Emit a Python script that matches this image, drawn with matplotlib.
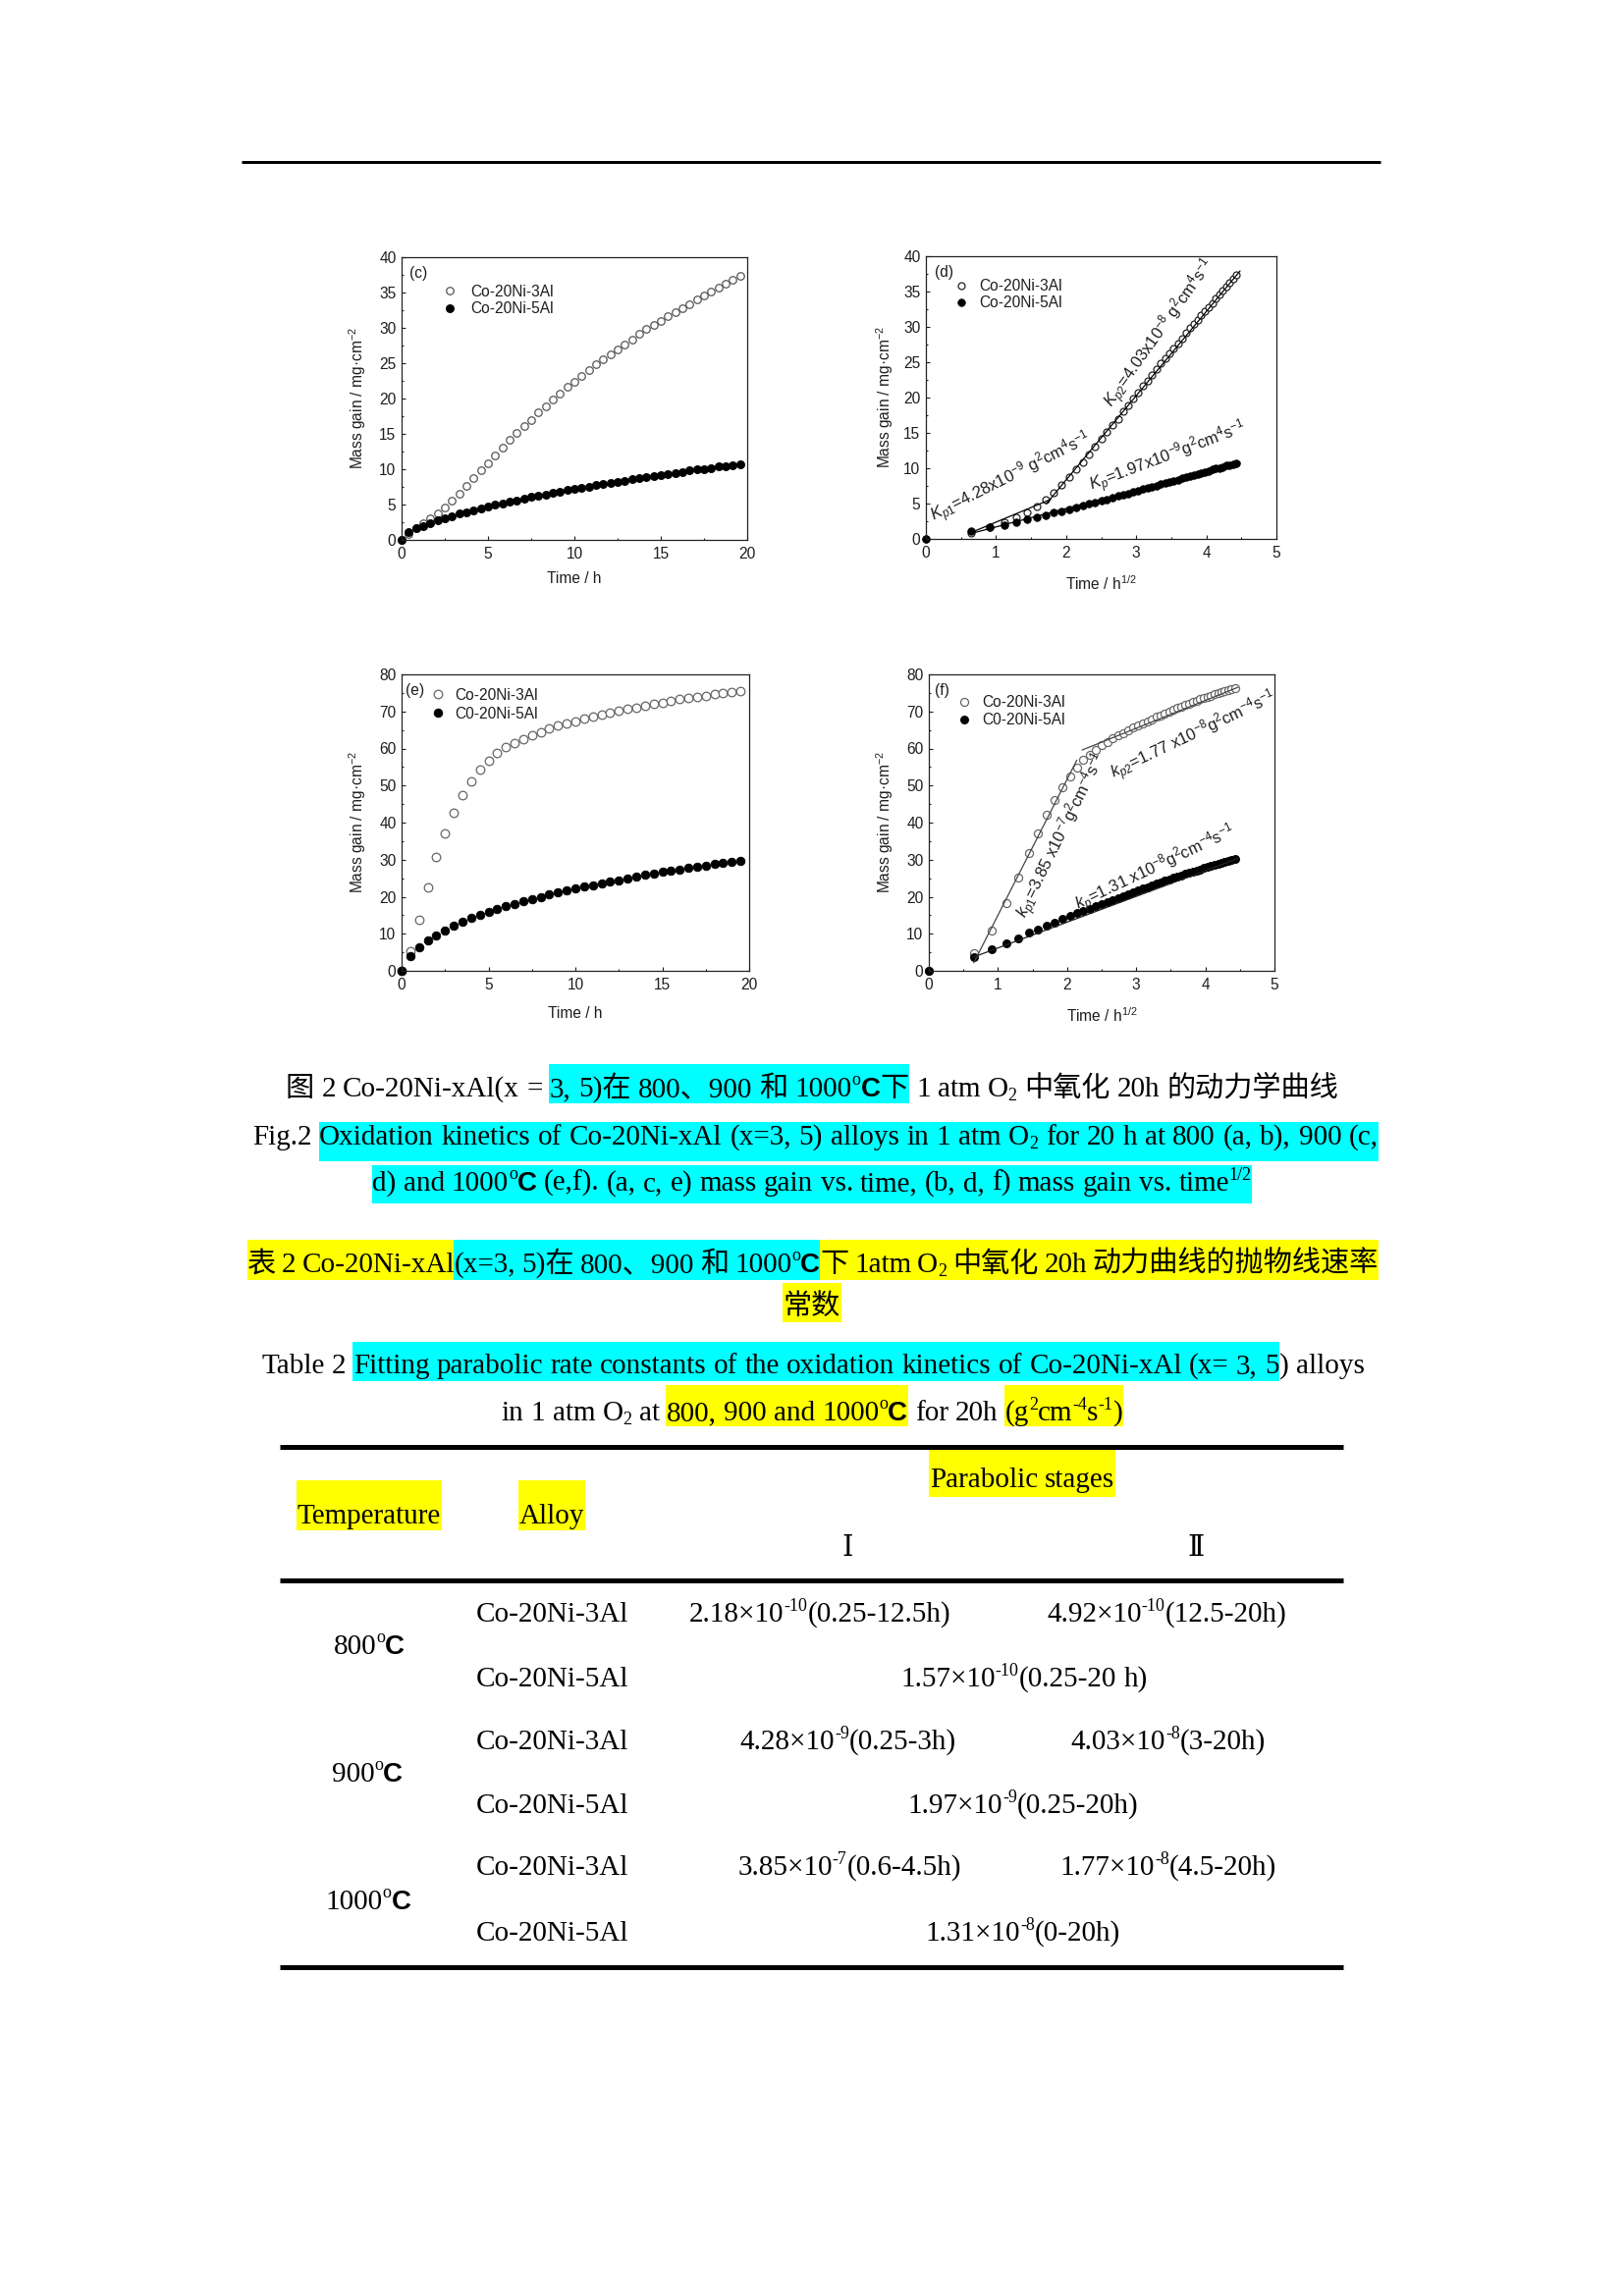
import re
import numpy as np
import matplotlib
matplotlib.use("Agg")
import matplotlib.pyplot as plt
from matplotlib.transforms import IdentityTransform
from matplotlib.patches import Rectangle
from matplotlib.lines import Line2D
from matplotlib.ticker import MultipleLocator

plt.rcParams['mathtext.fontset'] = 'custom'
plt.rcParams['mathtext.rm'] = 'Liberation Sans'
plt.rcParams['mathtext.it'] = 'Liberation Sans:italic'
plt.rcParams['mathtext.bf'] = 'Liberation Sans:bold'
plt.rcParams['font.family'] = ['Liberation Sans', 'DejaVu Sans']

# ---------------- data ----------------
# 900 C, 25-min sampling (h)
t_900 = [0, 0.42, 0.83, 1.25, 1.67, 2.08, 2.5, 2.92, 3.33, 3.75, 4.17, 4.58,
         5.0, 5.42, 5.83, 6.25, 6.67, 7.08, 7.5, 7.92, 8.33, 8.75, 9.17, 9.58,
         10.0, 10.42, 10.83, 11.25, 11.67, 12.08, 12.5, 12.92, 13.33, 13.75, 14.17, 14.58,
         15.0, 15.42, 15.83, 16.25, 16.67, 17.08, 17.5, 17.92, 18.33, 18.75, 19.17, 19.58]
m900_3Al = [0, 0.9, 1.7, 2.4, 3.1, 3.8, 4.6, 5.6, 6.5, 7.6, 8.7, 9.8,
            10.9, 12.0, 13.1, 14.1, 15.1, 16.1, 17.0, 18.0, 18.9, 19.8, 20.7, 21.6,
            22.4, 23.2, 24.0, 24.8, 25.6, 26.3, 27.0, 27.7, 28.4, 29.1, 29.8, 30.4,
            31.0, 31.6, 32.2, 32.8, 33.4, 34.0, 34.6, 35.1, 35.7, 36.2, 36.8, 37.3]
m900_5Al = [0, 1.07, 1.6, 2.0, 2.4, 2.8, 3.07, 3.4, 3.7, 3.95, 4.2, 4.45,
            4.7, 4.95, 5.2, 5.4, 5.6, 5.85, 6.05, 6.25, 6.45, 6.65, 6.85, 7.05,
            7.2, 7.4, 7.55, 7.75, 7.9, 8.1, 8.25, 8.4, 8.55, 8.75, 8.9, 9.05,
            9.2, 9.35, 9.5, 9.65, 9.8, 9.95, 10.05, 10.2, 10.35, 10.45, 10.6, 10.7]

# 1000 C, panel (e): 0.5 h sampling
t_1000e = [0, 0.5, 1.0, 1.5, 2.0, 2.5, 3.0, 3.5, 4.0, 4.5, 5.0, 5.5, 6.0, 6.5,
           7.0, 7.5, 8.0, 8.5, 9.0, 9.5, 10.0, 10.5, 11.0, 11.5, 12.0, 12.5, 13.0,
           13.5, 14.0, 14.5, 15.0, 15.5, 16.0, 16.5, 17.0, 17.5, 18.0, 18.5, 19.0, 19.5]
m1000e_3Al = [0, 5.4, 13.7, 22.6, 30.6, 37.2, 42.7, 47.5, 51.2, 54.4, 56.8, 58.7,
              60.3, 61.5, 62.6, 63.6, 64.5, 65.3, 66.1, 66.8, 67.4, 68.0, 68.6, 69.1,
              69.6, 70.1, 70.6, 71.1, 71.5, 72.0, 72.4, 72.8, 73.3, 73.6, 74.0, 74.3,
              74.6, 75.0, 75.2, 75.5]
m1000e_5Al = [0, 4.1, 6.4, 8.1, 9.6, 10.9, 12.2, 13.2, 14.2, 15.0, 15.9, 16.7,
              17.4, 18.1, 18.7, 19.3, 20.0, 20.6, 21.1, 21.6, 22.2, 22.7, 23.1, 23.7,
              24.1, 24.5, 25.0, 25.4, 25.9, 26.3, 26.7, 27.0, 27.4, 27.7, 28.1, 28.4,
              28.8, 29.1, 29.4, 29.8]

# 1000 C, panel (f): 25-min sampling (same times as t_900)
m1000f_3Al = [0, 4.7, 10.9, 18.4, 25.2, 31.8, 37.2, 42.0, 46.0, 49.5, 52.5, 54.9,
              56.9, 58.4, 59.7, 60.8, 61.8, 62.7, 63.5, 64.2, 64.9, 65.6, 66.2, 66.8,
              67.4, 67.9, 68.5, 69.0, 69.5, 70.0, 70.4, 70.9, 71.3, 71.7, 72.1, 72.5,
              72.9, 73.3, 73.6, 74.0, 74.3, 74.6, 74.9, 75.2, 75.5, 75.7, 76.0, 76.2]
m1000f_5Al = [0, 3.6, 5.7, 7.4, 8.8, 10.2, 11.2, 12.2, 13.1, 14.0, 14.8, 15.5,
              16.2, 16.8, 17.4, 18.0, 18.6, 19.1, 19.7, 20.2, 20.7, 21.2, 21.7, 22.2,
              22.6, 23.0, 23.5, 23.9, 24.3, 24.7, 25.1, 25.4, 25.8, 26.1, 26.5, 26.8,
              27.1, 27.4, 27.7, 28.0, 28.3, 28.6, 28.9, 29.2, 29.4, 29.7, 29.9, 30.1]

# parabolic fit lines (end points, x in h^1/2)
fit_d_I_x, fit_d_I_y = [0.62, 1.78], [0.8, 5.6]
fit_d_II_x, fit_d_II_y = [1.72, 4.48], [5.0, 37.9]
fit_d_5_x, fit_d_5_y = [0.62, 4.48], [0.7, 10.8]
fit_f_I_x, fit_f_I_y = [0.65, 2.14], [2.2, 56.8]
fit_f_II_x, fit_f_II_y = [2.22, 4.47], [59.6, 76.5]
fit_f_5_x, fit_f_5_y = [0.63, 4.47], [3.6, 30.3]

labels_top = ['Co-20Ni-3Al', 'Co-20Ni-5Al']
labels_bot = ['Co-20Ni-3Al', 'C0-20Ni-5Al']

# ---------------- page ----------------
W, H, DPI = 1654, 2339, 200
fig = plt.figure(figsize=(W / DPI, H / DPI), dpi=DPI)
fig.patch.set_facecolor('white')
R = fig.canvas.get_renderer()
ID = IdentityTransform()
PX = DPI / 72.0
CYAN, YEL = '#00FFFF', '#FFFF00'
SERIF = ['Liberation Serif', 'Noto Sans CJK SC']
TXT = '#1e1e1e'


def kw_for(kind, size):
    if kind in ('sup', 'sub', 'deg'):
        return dict(fontsize=size * 0.62, family=SERIF)
    if kind == 'C':
        return dict(fontsize=size * 0.95, family=['Liberation Sans'], weight='bold')
    if kind == 'rom':
        return dict(fontsize=size, family=['DejaVu Serif', 'Noto Sans CJK SC'])
    return dict(fontsize=size, family=SERIF, weight='light')


def rise_for(kind, size):
    return {'sup': 0.38, 'sub': -0.15, 'deg': 0.42}.get(kind, 0.0) * size * PX


def meas(s, kw):
    t1 = fig.text(0, 0, '|' + s + '|', transform=ID, **kw)
    w1 = t1.get_window_extent(R).width
    t1.remove()
    t0 = fig.text(0, 0, '||', transform=ID, **kw)
    w0 = t0.get_window_extent(R).width
    t0.remove()
    return w1 - w0


def line(runs, base, x0=None, xc=None, width=None, hl=None, size=10.5):
    items = []
    for txt, kind, col in runs:
        kw = kw_for(kind, size)
        for p in re.split('( +)', txt):
            if p == '':
                continue
            sp = p.strip() == ''
            items.append((p, kind, col, kw, meas(p, kw), sp))
    natural = sum(it[4] for it in items)
    nsp = sum(len(it[0]) for it in items if it[5])
    extra = (width - natural) / nsp if (width and nsp) else 0.0
    total = natural + extra * nsp
    x = x0 if x0 is not None else xc - total / 2.0
    for p, kind, col, kw, w, sp in items:
        adv = w + (extra * len(p) if sp else 0.0)
        if not sp:
            fig.text(x, H - base + rise_for(kind, size), p, transform=ID,
                     ha='left', va='baseline', color='black', zorder=3, **kw)
        if col is not None and hl is not None:
            fig.add_artist(Rectangle((x - 0.5, H - hl[1]), adv + 1.0, hl[1] - hl[0],
                                     transform=ID, facecolor=col, edgecolor='none',
                                     linewidth=0, antialiased=False, zorder=1))
        x += adv


def hrule(y, x1, x2, lw_px):
    fig.add_artist(Line2D([x1, x2], [H - y, H - y], transform=ID, color='black',
                          linewidth=lw_px / PX, solid_capstyle='butt', zorder=2))


def deg(col):
    return [('o', 'deg', col), ('C', 'C', col)]


hrule(165, 246, 1406, 3)

# ---------------- plots ----------------
def add_ax(l, t, r, b):
    return fig.add_axes([l / W, 1 - b / H, (r - l) / W, (b - t) / H])


FS = 5.6


def style_ax(ax, xlim, xmaj, ylim, ymaj):
    ax.set_xlim(*xlim)
    ax.set_ylim(*ylim)
    ax.xaxis.set_major_locator(MultipleLocator(xmaj))
    ax.xaxis.set_minor_locator(MultipleLocator(xmaj / 2))
    ax.yaxis.set_major_locator(MultipleLocator(ymaj))
    ax.yaxis.set_minor_locator(MultipleLocator(ymaj / 2))
    ax.tick_params(which='both', direction='in', top=False, right=False,
                   colors=TXT, labelsize=FS, width=0.4)
    ax.tick_params(which='major', length=1.4)
    ax.tick_params(which='minor', length=0.8)
    ax.tick_params(axis='x', pad=2.6)
    ax.tick_params(axis='y', pad=2.0)
    for s in ax.spines.values():
        s.set_linewidth(0.45)
        s.set_color('#222222')
    ax.set_ylabel('Mass gain / mg·cm$^{-2}$', fontsize=FS, color=TXT)


def panel_legend(ax, handles, labels, ax_x, ax_y, pad, spacing):
    ax.legend(handles, labels, loc='upper left', bbox_to_anchor=(ax_x, ax_y),
              frameon=False, fontsize=FS, handlelength=1.0, handletextpad=pad,
              labelspacing=spacing, borderpad=0, borderaxespad=0, numpoints=1,
              labelcolor=TXT)


# (c)
ax = add_ax(409, 262, 761, 550)
style_ax(ax, (0, 20), 5, (0, 40), 5)
h3, = ax.plot(t_900, m900_3Al, 'o', ms=2.7, mfc='white', mec='#555555', mew=0.45, clip_on=False)
h5, = ax.plot(t_900, m900_5Al, 'o', ms=2.9, mfc='black', mec='black', mew=0.3, clip_on=False)
ax.set_xlabel('Time / h', fontsize=FS, color=TXT)
ax.xaxis.set_label_coords(0.5, -0.112)
ax.yaxis.set_label_coords(-0.097, 0.5)
ax.text(0.023, 0.944, '(c)', transform=ax.transAxes, fontsize=FS, va='center', color=TXT)
panel_legend(ax, [h3, h5], labels_top, 0.116, 0.903, 0.9, 0.15)

# (d)
ax = add_ax(943, 261, 1300, 549)
style_ax(ax, (0, 5), 1, (0, 40), 5)
xd = np.sqrt(t_900)
h3, = ax.plot(xd, m900_3Al, 'o', ms=2.5, mfc='white', mec='#222222', mew=0.45, clip_on=False)
h5, = ax.plot(xd, m900_5Al, 'o', ms=2.7, mfc='black', mec='black', mew=0.3, clip_on=False)
ax.plot(fit_d_I_x, fit_d_I_y, '-', color='black', lw=0.45)
ax.plot(fit_d_II_x, fit_d_II_y, '-', color='black', lw=0.45)
ax.plot(fit_d_5_x, fit_d_5_y, '-', color='black', lw=0.45)
ax.set_xlabel('Time / h$^{1/2}$', fontsize=FS, color=TXT)
ax.xaxis.set_label_coords(0.5, -0.125)
ax.yaxis.set_label_coords(-0.087, 0.5)
ax.text(0.025, 0.941, '(d)', transform=ax.transAxes, fontsize=FS, va='center', color=TXT)
panel_legend(ax, [h3, h5], labels_top, 0.079, 0.92, 0.65, 0.15)
AFS = 6.0
ax.text(1.21, 8.7, '$K_{p1}$=4.28x10$^{-9}$ g$^{2}$cm$^{4}$s$^{-1}$', fontsize=AFS, rotation=26.6,
        rotation_mode='anchor', ha='center', va='center', color=TXT)
ax.text(3.34, 29.0, '$K_{p2}$=4.03x10$^{-8}$ g$^{2}$cm$^{4}$s$^{-1}$', fontsize=AFS, rotation=54.5,
        rotation_mode='anchor', ha='center', va='center', color=TXT)
ax.text(3.46, 11.5, '$K_{p}$=1.97x10$^{-9}$g$^{2}$cm$^{4}$s$^{-1}$', fontsize=AFS, rotation=20.6,
        rotation_mode='anchor', ha='center', va='center', color=TXT)

# (e)
ax = add_ax(409, 687, 763, 989)
style_ax(ax, (0, 20), 5, (0, 80), 10)
h3, = ax.plot(t_1000e, m1000e_3Al, 'o', ms=3.1, mfc='white', mec='#666666', mew=0.45, clip_on=False)
h5, = ax.plot(t_1000e, m1000e_5Al, 'o', ms=3.1, mfc='black', mec='black', mew=0.3, clip_on=False)
ax.set_xlabel('Time / h', fontsize=FS, color=TXT)
ax.xaxis.set_label_coords(0.5, -0.119)
ax.yaxis.set_label_coords(-0.096, 0.5)
ax.text(0.011, 0.947, '(e)', transform=ax.transAxes, fontsize=FS, va='center', color=TXT)
panel_legend(ax, [h3, h5], labels_bot, 0.082, 0.954, 0.65, 0.25)

# (f)
ax = add_ax(946, 687, 1298, 989)
style_ax(ax, (0, 5), 1, (0, 80), 10)
xf = np.sqrt(t_900)
h3, = ax.plot(xf, m1000f_3Al, 'o', ms=2.9, mfc='white', mec='#666666', mew=0.45, clip_on=False)
h5, = ax.plot(xf, m1000f_5Al, 'o', ms=2.9, mfc='black', mec='black', mew=0.3, clip_on=False)
ax.plot(fit_f_I_x, fit_f_I_y, '-', color='#444444', lw=0.45)
ax.plot(fit_f_II_x, fit_f_II_y, '-', color='#444444', lw=0.45)
ax.plot(fit_f_5_x, fit_f_5_y, '-', color='#222222', lw=0.45)
ax.set_xlabel('Time / h$^{1/2}$', fontsize=FS, color=TXT)
ax.xaxis.set_label_coords(0.5, -0.119)
ax.yaxis.set_label_coords(-0.097, 0.5)
ax.text(0.017, 0.947, '(f)', transform=ax.transAxes, fontsize=FS, va='center', color=TXT)
panel_legend(ax, [h3, h5], labels_bot, 0.080, 0.93, 0.65, 0.2)
ax.text(1.93, 36.5, '$k_{p1}$=3.85 x10$^{-7}$g$^{2}$cm$^{-4}$s$^{-1}$', fontsize=AFS, rotation=63.7,
        rotation_mode='anchor', ha='center', va='center', color=TXT)
ax.text(3.83, 63.4, '$k_{p2}$=1.77 x10$^{-8}$g$^{2}$cm$^{-4}$s$^{-1}$', fontsize=AFS, rotation=25.3,
        rotation_mode='anchor', ha='center', va='center', color=TXT)
ax.text(3.28, 27.6, '$k_{p}$=1.31 x10$^{-8}$g$^{2}$cm$^{-4}$s$^{-1}$', fontsize=AFS, rotation=25.3,
        rotation_mode='anchor', ha='center', va='center', color=TXT)

# ---------------- captions ----------------
N = None
line([('图 2 Co-20Ni-xAl(x = ', 'n', N), ('3, 5)在 800、900 和 1000', 'n', CYAN)] + deg(CYAN) +
     [('下', 'n', CYAN), (' 1 atm O', 'n', N), ('2', 'sub', N), (' 中氧化 20h 的动力学曲线', 'n', N)],
     base=1117, xc=827, hl=(1084, 1124))
line([('Fig.2 ', 'n', N), ('Oxidation kinetics of Co-20Ni-xAl (x=3, 5) alloys in 1 atm O', 'n', CYAN),
      ('2', 'sub', CYAN), (' for 20 h at 800 (a, b), 900 (c,', 'n', CYAN)],
     base=1166, x0=257, width=1404 - 257, hl=(1143, 1183))
line([('d) and 1000', 'n', CYAN)] + deg(CYAN) +
     [(' (e,f). (a, c, e) mass gain vs. time, (b, d, f) mass gain vs. time', 'n', CYAN), ('1/2', 'sup', CYAN)],
     base=1213, xc=827, hl=(1187, 1226))

line([('表 2 Co-20Ni-xAl', 'n', YEL), ('(x=3, 5)在 800、900 和 1000', 'n', CYAN)] + deg(CYAN) +
     [('下 1atm O', 'n', YEL), ('2', 'sub', YEL), (' 中氧化 20h 动力曲线的抛物线速率', 'n', YEL)],
     base=1296, x0=252, width=1404 - 252, hl=(1263, 1304))
line([('常数', 'n', YEL)], base=1339, xc=827, hl=(1307, 1347))
line([('Table 2 ', 'n', N),
      ('Fitting parabolic rate constants of the oxidation kinetics of Co-20Ni-xAl (x= 3, 5', 'n', CYAN),
      (') alloys', 'n', N)], base=1399, xc=828, hl=(1367, 1407))
line([('in 1 atm O', 'n', N), ('2', 'sub', N), (' at ', 'n', N), ('800, 900 and 1000', 'n', YEL)] + deg(YEL) +
     [(' for 20h ', 'n', N), ('(g', 'n', YEL), ('2', 'sup', YEL), ('cm', 'n', YEL), ('-4', 'sup', YEL),
      ('s', 'n', YEL), ('-1', 'sup', YEL), (')', 'n', YEL)],
     base=1447, xc=827, hl=(1411, 1453))

# ---------------- table ----------------
hrule(1474, 285, 1368, 5)
hrule(1610, 285, 1368, 5)
hrule(2004, 285, 1368, 5)

line([('Temperature', 'n', YEL)], base=1552, xc=376, hl=(1508, 1559))
line([('Alloy', 'n', YEL)], base=1552, xc=562, hl=(1508, 1559))
line([('Parabolic stages', 'n', YEL)], base=1515, xc=1041, hl=(1475, 1525))
line([('Ⅰ', 'rom', N)], base=1585, xc=863)
line([('Ⅱ', 'rom', N)], base=1585, xc=1218)

temps = ['800', '900', '1000']
temp_base = [1685, 1815, 1945]
alloys = ['Co-20Ni-3Al', 'Co-20Ni-5Al', 'Co-20Ni-3Al', 'Co-20Ni-5Al', 'Co-20Ni-3Al', 'Co-20Ni-5Al']
row_base = [1652, 1718, 1782, 1847, 1910, 1977]
kp_I = [('2.18×10', '-10', '(0.25-12.5h)'), ('1.57×10', '-10', '(0.25-20 h)'),
        ('4.28×10', '-9', '(0.25-3h)'), ('1.97×10', '-9', '(0.25-20h)'),
        ('3.85×10', '-7', '(0.6-4.5h)'), ('1.31×10', '-8', '(0-20h)')]
kp_II = [('4.92×10', '-10', '(12.5-20h)'), None, ('4.03×10', '-8', '(3-20h)'), None,
         ('1.77×10', '-8', '(4.5-20h)'), None]
colI_x = [835, 1043, 864, 1042, 865, 1042]
colII_x = [1188, None, 1190, None, 1190, None]

for tb, tv, txc in zip(temp_base, temps, [376, 374, 375]):
    line([(tv, 'n', N)] + deg(N), base=tb, xc=txc)
for i in range(6):
    line([(alloys[i], 'n', N)], base=row_base[i], x0=485)
    a, e, b = kp_I[i]
    line([(a, 'n', N), (e, 'sup', N), (b, 'n', N)], base=row_base[i], xc=colI_x[i])
    if kp_II[i] is not None:
        a, e, b = kp_II[i]
        line([(a, 'n', N), (e, 'sup', N), (b, 'n', N)], base=row_base[i], xc=colII_x[i])

fig.savefig('out.png', dpi=DPI, facecolor='white')
